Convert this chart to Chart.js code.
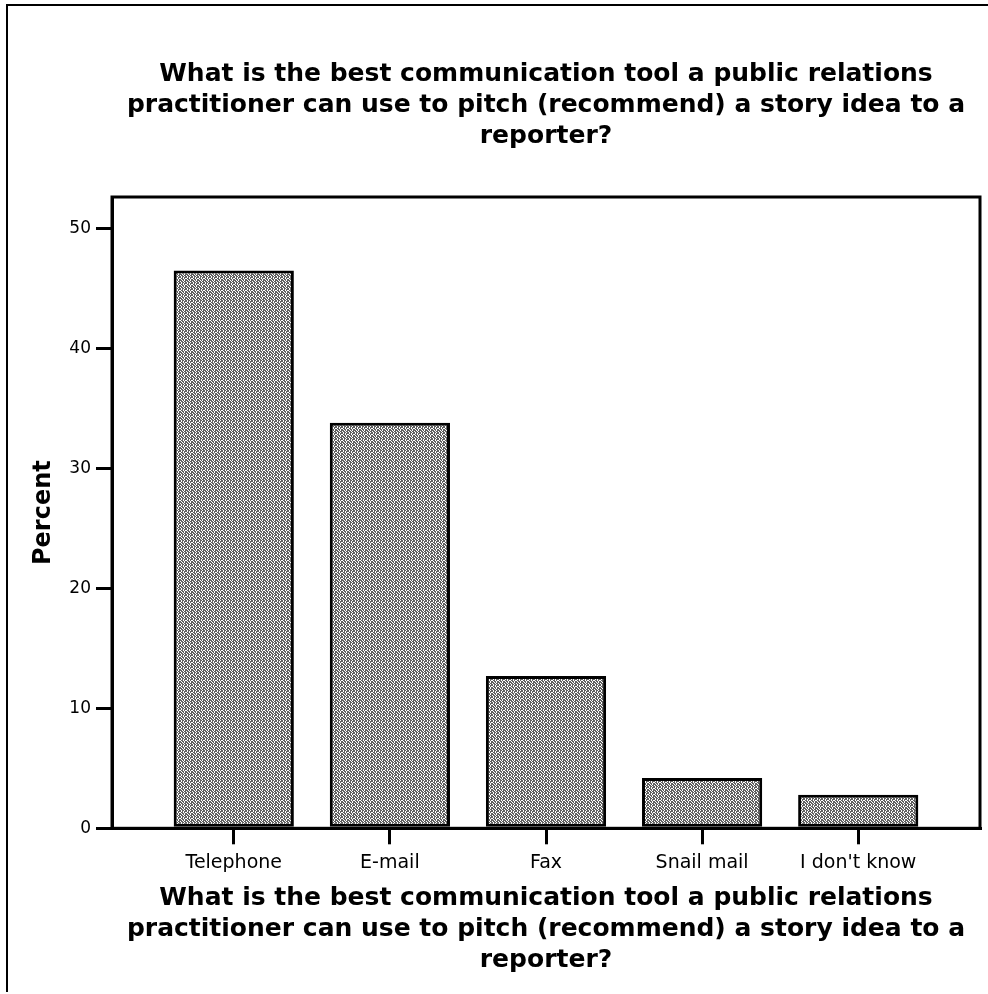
<!DOCTYPE html>
<html><head><meta charset="utf-8">
<script src="https://cdn.jsdelivr.net/npm/chart.js@4/dist/chart.umd.min.js"></script>
<style>html,body{margin:0;padding:0;background:#fff}canvas{display:block}</style>
</head><body>
<canvas id="c" width="988" height="994"></canvas>
<script>
const categories = ["Telephone", "E-mail", "Fax", "Snail mail", "I don't know"];
const percents = [46.5, 33.8, 12.7, 4.2, 2.8];
const yTickValues = [0, 10, 20, 30, 40, 50];
const titleLines = [
  "What is the best communication tool a public relations",
  "practitioner can use to pitch (recommend) a story idea to a",
  "reporter?"
];
const yAxisTitle = "Percent";

function makePattern() {
  const bits = [
    "101101",
    "101011",
    "011010",
    "101101",
    "110101",
    "011011"
  ];
  const c = document.createElement('canvas');
  c.width = 6; c.height = 6;
  const g = c.getContext('2d');
  g.fillStyle = '#fff'; g.fillRect(0, 0, 6, 6);
  g.fillStyle = '#606060';
  bits.forEach((row, y) => { for (let x = 0; x < 6; x++) if (row[x] === '1') g.fillRect(x, y, 1, 1); });
  return g.createPattern(c, 'repeat');
}

const framePlugin = {
  id: 'frame',
  afterDatasetsDraw(chart) {
    const { ctx, chartArea: a } = chart;
    ctx.save();
    ctx.strokeStyle = '#000';
    ctx.lineWidth = 3;
    ctx.strokeRect(a.left, a.top, a.right - a.left, a.bottom - a.top);
    ctx.restore();
  }
};
const pageBorder = {
  id: 'pageBorder',
  beforeDraw(chart) {
    const ctx = chart.ctx;
    ctx.save();
    ctx.strokeStyle = '#000';
    ctx.lineWidth = 2;
    ctx.beginPath();
    ctx.moveTo(988, 5); ctx.lineTo(7, 5); ctx.lineTo(7, 992);
    ctx.stroke();
    ctx.restore();
  }
};

const fam = "'DejaVu Sans', 'Liberation Sans', Arial, sans-serif";
const gridOpts = { offset: false, drawOnChartArea: false, drawTicks: true, tickLength: 16, tickWidth: 3, tickColor: '#000', color: '#000', lineWidth: 3 };

new Chart(document.getElementById('c'), {
  type: 'bar',
  data: {
    datasets: [{
      data: categories.map((c, i) => ({ x: i, y: percents[i] })),
      backgroundColor: makePattern(),
      borderColor: '#000',
      borderWidth: 3,
      borderSkipped: false,
      barPercentage: 0.77,
      categoryPercentage: 1
    }]
  },
  options: {
    responsive: false,
    animation: false,
    devicePixelRatio: 1,
    layout: { padding: { left: 0, right: 8, top: 0, bottom: 0 } },
    plugins: {
      legend: { display: false },
      tooltip: { enabled: false },
      title: {
        display: true, text: titleLines, fullSize: false, color: '#000',
        font: { family: fam, size: 25, weight: 'bold', lineHeight: 1.24 },
        padding: { top: 59, bottom: 45 }
      }
    },
    scales: {
      x: {
        type: 'linear', min: -0.78, max: 4.78, offset: false,
        afterBuildTicks: s => { s.ticks = categories.map((c, i) => ({ value: i })); },
        afterFit: s => { s.height = 165.7; },
        ticks: { callback: v => categories[v], font: { family: fam, size: 19 }, color: '#000', padding: 7, autoSkip: false, maxRotation: 0 },
        grid: gridOpts,
        border: { display: true, color: '#000', width: 3 },
        title: { display: true, text: titleLines, color: '#000', font: { family: fam, size: 25, weight: 'bold', lineHeight: 1.24 }, padding: { top: 0, bottom: 18 } }
      },
      y: {
        min: 0, max: 52.63,
        afterBuildTicks: s => { s.ticks = yTickValues.map(v => ({ value: v })); },
        afterFit: s => { s.width = 112; },
        ticks: { font: { family: fam, size: 17 }, color: '#000', padding: 5 },
        grid: gridOpts,
        border: { display: true, color: '#000', width: 3 },
        title: { display: true, text: yAxisTitle, color: '#000', font: { family: fam, size: 24, weight: 'bold', lineHeight: 1.2 }, padding: { top: 29, bottom: 0 } }
      }
    }
  },
  plugins: [pageBorder, framePlugin]
});
</script>
</body></html>
